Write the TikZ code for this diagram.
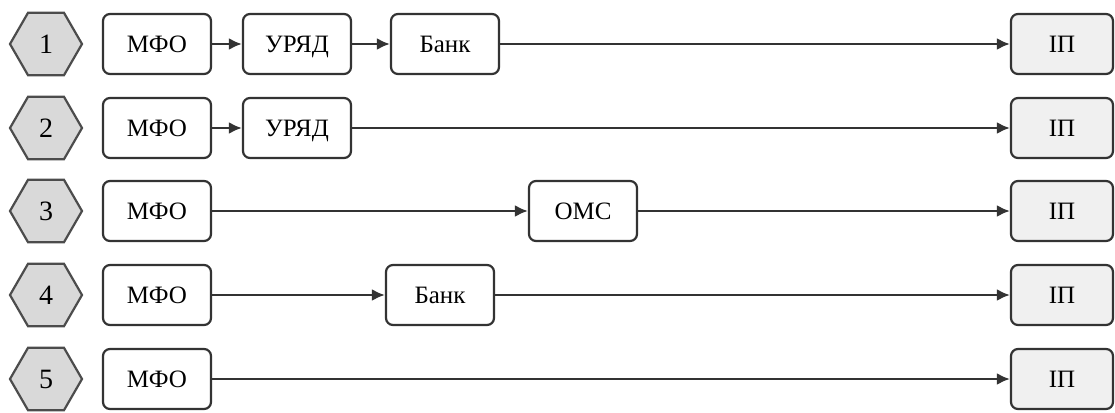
\documentclass[tikz,border=0pt]{standalone}
\usepackage{fontspec}
\setmainfont{Liberation Serif}
\usetikzlibrary{shapes.geometric,positioning,arrows.meta}
\tikzset{
    flow-box/.style = {draw=black!80, fill=white, line width=2.2pt, rectangle, rounded corners=7pt, minimum width=108pt, minimum height=60pt, inner sep=0pt, text height=16.5pt, text depth=0pt, font=\fontsize{25}{29}\selectfont},
    end-box/.style = {flow-box, fill=black!6, minimum width=102pt},
    num-hex/.style = {draw=black!70, fill=black!15, line width=2.2pt, regular polygon, regular polygon sides=6, minimum size=72pt, inner sep=0pt, text height=18.5pt, text depth=0pt, font=\fontsize{28}{32}\selectfont},
    flow/.style = {draw=black!80, line width=2.4pt, -{Latex[length=13pt,width=12pt]}},
}

\begin{document}
\begin{tikzpicture}[x=1pt, y=1pt]
\useasboundingbox (0,0) rectangle (1115,-412);
% one row per scheme: number, MFO at the start, IP at the end
\foreach \n/\y in {1/44, 2/128, 3/211, 4/295, 5/379} {
    \node [num-hex] (hex\n) at (46,-\y) {\n};
    \node [flow-box] (mfo\n) at (157,-\y) {МФО};
    \node [end-box] (ip\n) at (1062,-\y) {ІП};
}
% intermediate steps
\node [flow-box] (uryad1) at (297,-44) {УРЯД};
\node [flow-box] (bank1) at (445,-44) {Банк};
\node [flow-box] (uryad2) at (297,-128) {УРЯД};
\node [flow-box] (oms3) at (583,-211) {ОМС};
\node [flow-box] (bank4) at (440,-295) {Банк};

\draw [flow] (mfo1) -- (uryad1);
\draw [flow] (uryad1) -- (bank1);
\draw [flow] (bank1) -- (ip1);
\draw [flow] (mfo2) -- (uryad2);
\draw [flow] (uryad2) -- (ip2);
\draw [flow] (mfo3) -- (oms3);
\draw [flow] (oms3) -- (ip3);
\draw [flow] (mfo4) -- (bank4);
\draw [flow] (bank4) -- (ip4);
\draw [flow] (mfo5) -- (ip5);
\end{tikzpicture}
\end{document}
